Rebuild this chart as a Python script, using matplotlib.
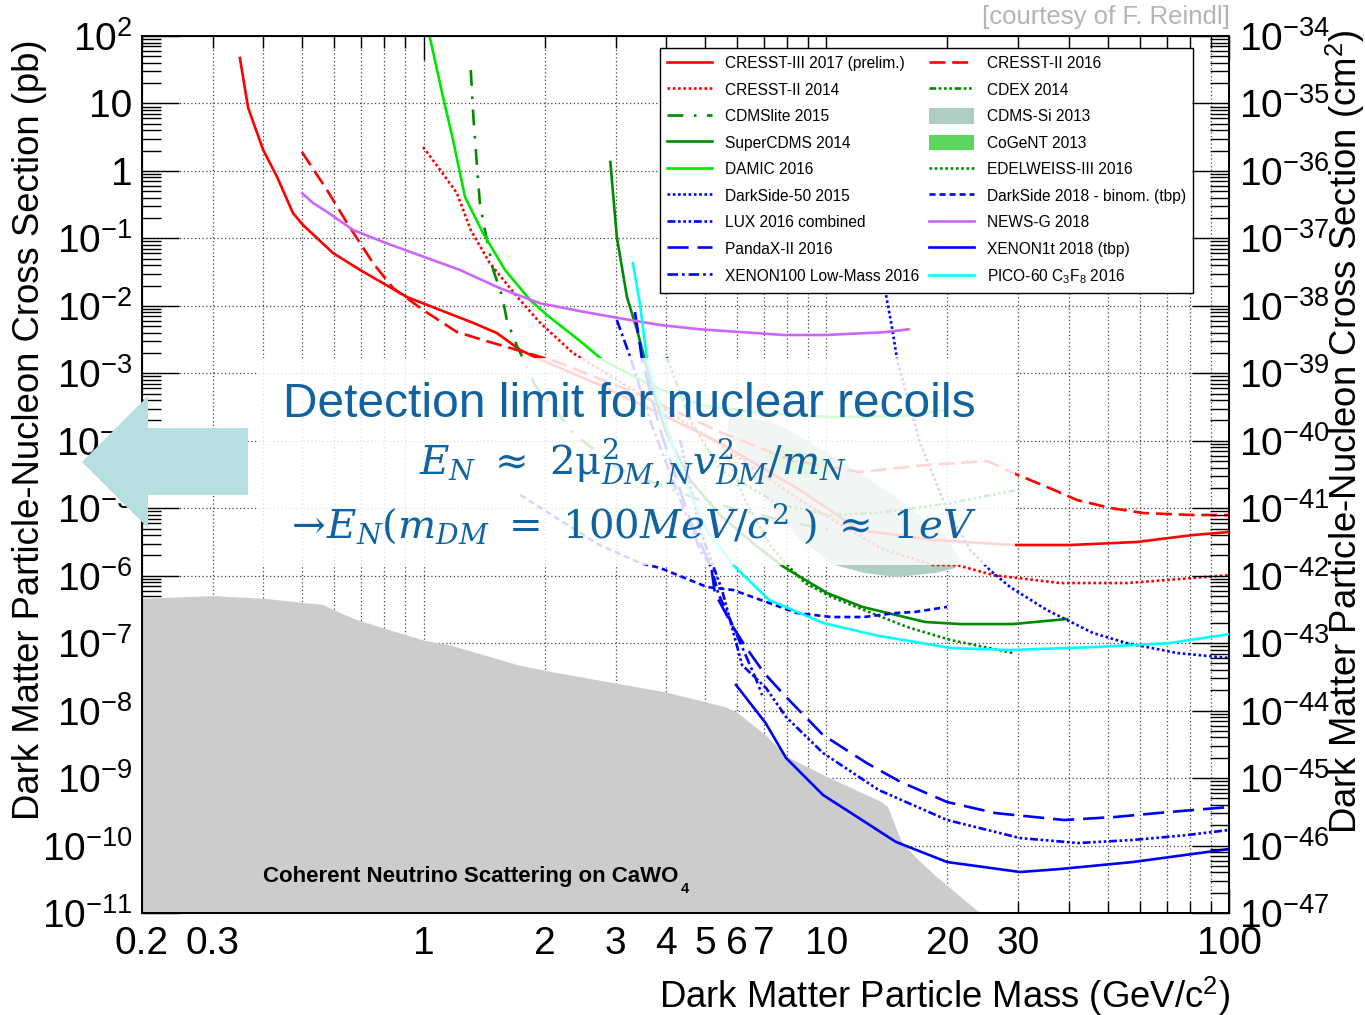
import numpy as np
import matplotlib
matplotlib.use('Agg')
import matplotlib.pyplot as plt
import matplotlib.ticker as mticker
from matplotlib.patches import Polygon, Rectangle, Patch
from matplotlib.lines import Line2D

plt.rcParams['font.family'] = ['Liberation Sans', 'DejaVu Sans']
plt.rcParams['mathtext.fontset'] = 'dejavuserif'

# ---- data (mass in GeV/c^2, cross section in pb) ----
cresst3_m = [0.350, 0.367, 0.400, 0.433, 0.474, 0.502, 0.596, 0.696, 0.910, 1.10, 1.33, 1.52, 1.74, 1.91,
             2.74, 4.17, 5.45, 8.61, 12.1, 18.5, 29.1, 40.3, 59.1, 81.4, 100]
cresst3_s = [47.2, 8.57, 2.04, 0.813, 0.238, 0.158, 0.0607, 0.034, 0.0135, 8.67e-3, 5.57e-3, 3.96e-3, 2.21e-3,
             1.69e-3, 6.71e-4, 2.03e-4, 9.27e-5, 1.86e-5, 4.75e-6, 3.38e-6, 2.85e-6, 2.85e-6, 3.16e-6, 4.01e-6, 4.44e-6]

cresst2_16_m = [0.499, 0.576, 0.646, 0.749, 0.840, 0.998, 1.21, 1.46, 1.71, 2.15, 3.45, 5.45, 8.13, 12.1, 17.8,
                25.1, 29.1, 35.3, 42.0, 50.7, 61.2, 81.4, 100]
cresst2_16_s = [1.91, 0.521, 0.169, 0.0432, 0.0184, 8.67e-3, 4.09e-3, 2.91e-3, 2.21e-3, 1.47e-3, 4.76e-4, 1.35e-4,
                5.19e-5, 3.44e-5, 4.37e-5, 5.01e-5, 3.33e-5, 2.07e-5, 1.32e-5, 1.01e-5, 8.49e-6, 7.93e-6, 7.93e-6]

cresst2_14_m = [0.998, 1.10, 1.21, 1.31, 1.46, 1.71, 1.95, 2.35, 3.65, 5.45, 8.61, 13.6, 18.4, 21.1, 26.0, 38.1,
                55.8, 81.4, 100]
cresst2_14_s = [2.26, 1.03, 0.471, 0.133, 0.0432, 0.0135, 5.57e-3, 2.0e-3, 4.02e-4, 8.65e-5, 1.32e-5, 2.57e-6,
                1.44e-6, 1.44e-6, 1.02e-6, 7.78e-7, 7.78e-7, 9.25e-7, 1.02e-6]

cdex_m = [4.02, 4.59, 5.45, 7.68, 10.2, 13.4, 20.3, 29.8]
cdex_s = [1.75e-3, 2.03e-4, 3.69e-5, 1.12e-5, 7.94e-6, 8.49e-6, 1.19e-5, 1.86e-5]

cdmslite_m = [1.31, 1.33, 1.36, 1.38, 1.42, 1.49, 1.57, 1.61, 1.71, 1.76, 1.89, 2.10, 2.35, 3.08, 4.86, 7.68, 10.2]
cdmslite_s = [31.3, 6.30, 1.03, 0.335, 0.133, 0.034, 0.0135, 6.17e-3, 2.46e-3, 1.75e-3, 6.71e-4, 3.16e-4,
              1.30e-4, 3.69e-5, 1.32e-5, 6.68e-6, 4.75e-6]

cdmssi_m = [5.77, 7.68, 10.8, 15.3, 19.7, 21.5, 20.9, 18.7, 14.9, 12.4, 10.5, 8.61, 7.25, 6.29, 5.70]
cdmssi_s = [2.67e-4, 1.71e-4, 5.19e-5, 1.32e-5, 4.01e-6, 1.71e-6, 1.30e-6, 1.10e-6, 9.55e-7, 1.10e-6, 1.44e-6,
            3.38e-6, 1.12e-5, 4.37e-5, 1.45e-4]

supercdms_m = [2.91, 3.02, 3.20, 3.39, 3.51, 3.65, 3.98, 4.59, 5.45, 6.66, 7.84, 10.05, 12.3, 17.6, 21.5, 29.1, 39.6]
supercdms_s = [1.355, 0.105, 0.0135, 4.39e-3, 2.0e-3, 7.96e-4, 1.45e-4, 2.62e-5, 7.94e-6, 2.85e-6, 1.35e-6,
               5.53e-7, 3.44e-7, 2.06e-7, 1.92e-7, 1.92e-7, 2.28e-7]

cogent_m = [7.0, 8.0, 9.5, 10.5, 9.0, 7.5]
cogent_s = [6.0e-5, 8.0e-5, 6.0e-5, 3.5e-5, 2.8e-5, 4.0e-5]

damic_m = [1.015, 1.118, 1.184, 1.268, 1.405, 1.594, 1.839, 2.026, 2.447, 2.79, 3.65, 4.86, 6.85, 10.2, 15.3, 19.7]
damic_s = [172, 12.5, 2.87, 0.411, 0.120, 0.034, 0.0122, 7.31e-3, 3.01e-3, 1.57e-3, 6.71e-4, 3.39e-4, 2.58e-4,
           2.25e-4, 2.31e-4, 2.86e-4]

edw_m = [5.45, 6.29, 7.25, 7.86, 8.86, 10.3, 12.4, 15.9, 20.4, 29.1]
edw_s = [1.03e-4, 1.32e-5, 2.85e-6, 1.60e-6, 7.78e-7, 4.83e-7, 3.10e-7, 1.73e-7, 1.11e-7, 7.14e-8]

ds50_m = [14.0, 14.6, 15.0, 17.1, 19.95, 22.8, 25.5, 28.6, 35.3, 46.0, 55.8, 74.3, 100]
ds50_s = [0.0172, 4.39e-3, 1.57e-3, 9.27e-5, 9.42e-6, 2.40e-6, 1.21e-6, 6.79e-7, 3.10e-7, 1.41e-7, 1.00e-7,
          7.14e-8, 6.03e-8]

ds18_m = [1.74, 2.18, 2.74, 3.45, 3.87, 5.06, 5.87, 7.21, 8.46, 10.3, 12.4, 14.9, 16.6, 19.95]
ds18_s = [1.57e-5, 6.68e-6, 2.85e-6, 1.54e-6, 1.30e-6, 6.79e-7, 6.14e-7, 3.94e-7, 2.80e-7, 2.44e-7, 2.44e-7,
          2.80e-7, 2.90e-7, 3.44e-7]

lux_m = [4.34, 4.86, 5.51, 6.18, 7.09, 7.95, 9.82, 13.5, 19.95, 30.3, 42.2, 57.8, 78.7, 100]
lux_s = [1.03e-4, 4.75e-6, 6.14e-7, 4.74e-8, 2.16e-8, 8.04e-9, 2.35e-9, 6.65e-10, 2.39e-10, 1.29e-10, 1.09e-10,
         1.21e-10, 1.43e-10, 1.70e-10]

newsg_m = [0.500, 0.533, 0.575, 0.669, 0.810, 1.0, 1.232, 1.549, 1.947, 2.494, 3.08, 3.87, 4.86, 7.83, 10.0, 13.9, 16.0]
newsg_s = [0.466, 0.331, 0.249, 0.133, 0.0845, 0.0535, 0.034, 0.0182, 0.0109, 8.18e-3, 6.53e-3, 5.20e-3, 4.49e-3,
           3.70e-3, 3.70e-3, 4.06e-3, 4.49e-3]

pandax_m = [3.35, 3.49, 3.87, 4.59, 5.18, 5.29, 5.87, 6.31, 7.01, 7.95, 9.82, 12.6, 15.3, 19.95, 26.3, 39.0, 52.1,
            71.0, 100]
pandax_s = [8.11e-3, 1.57e-3, 1.45e-4, 6.68e-6, 1.35e-6, 5.53e-7, 1.73e-7, 8.77e-8, 3.61e-8, 1.59e-8, 4.35e-9,
            1.67e-9, 8.75e-10, 4.42e-10, 3.03e-10, 2.39e-10, 2.65e-10, 3.14e-10, 3.72e-10]

xe1t_m = [5.97, 7.07, 7.95, 9.82, 14.9, 19.95, 30.3, 38.1, 57.8, 100]
xe1t_s = [2.40e-8, 6.55e-9, 1.98e-9, 5.61e-10, 1.13e-10, 5.70e-11, 4.05e-11, 4.49e-11, 5.70e-11, 8.87e-11]

xe100_m = [3.02, 3.26, 3.65, 4.34, 4.86, 5.18, 5.39, 5.97, 6.66, 6.93]
xe100_s = [6.17e-3, 1.75e-3, 2.03e-4, 1.32e-5, 2.40e-6, 1.35e-6, 5.53e-7, 1.41e-7, 3.15e-8, 1.70e-8]

pico_m = [3.31, 3.45, 3.59, 3.87, 4.34, 5.00, 5.87, 7.21, 9.82, 13.5, 20.4, 28.6, 46.8, 71.0, 100]
pico_s = [0.0432, 0.0103, 1.57e-3, 3.39e-4, 3.69e-5, 5.27e-6, 1.44e-6, 4.37e-7, 1.99e-7, 1.28e-7, 8.47e-8,
          7.91e-8, 8.77e-8, 1.0e-7, 1.36e-7]

nu_m = [0.2, 0.255, 0.299, 0.402, 0.498, 0.561, 0.595, 0.670, 0.800, 1.0, 1.163, 1.417, 1.725, 2.018, 3.02, 3.98,
        5.62, 5.98, 7.07, 8.01, 9.85, 13.7, 14.2, 15.3, 16.6, 18.8, 23.6, 24.4]
nu_s = [4.62e-7, 4.89e-7, 5.06e-7, 4.62e-7, 4.03e-7, 3.77e-7, 3.17e-7, 2.33e-7, 1.66e-7, 1.11e-7, 9.4e-8, 6.67e-8,
        4.74e-8, 3.91e-8, 2.54e-8, 1.90e-8, 1.14e-8, 9.6e-9, 4.35e-9, 2.07e-9, 1.11e-9, 4.47e-10, 3.77e-10,
        1.21e-10, 6.83e-11, 3.45e-11, 1.11e-11, 1e-11]

x_major = [1, 10, 100]
x_minor = [0.2, 0.3, 0.4, 0.5, 0.6, 0.7, 0.8, 0.9, 2, 3, 4, 5, 6, 7, 8, 9, 20, 30, 40, 50, 60, 70, 80, 90]
x_minor_labeled = [0.2, 0.3, 2, 3, 4, 5, 6, 7, 20, 30]

# ---- styles ----
RED, BLUE, DKGREEN, GREEN = '#ff0000', '#0000ff', '#008a00', '#00e600'
LW = 1.9
curves = [
    # label, m, s, color, linestyle
    ('CRESST-III 2017 (prelim.)', cresst3_m, cresst3_s, RED, '-'),
    ('CRESST-II 2014', cresst2_14_m, cresst2_14_s, RED, (0, (1, 1))),
    ('CDMSlite 2015', cdmslite_m, cdmslite_s, DKGREEN, (0, (6, 4, 1, 4))),
    ('SuperCDMS 2014', supercdms_m, supercdms_s, DKGREEN, '-'),
    ('DAMIC 2016', damic_m, damic_s, GREEN, '-'),
    ('DarkSide-50 2015', ds50_m, ds50_s, BLUE, (0, (1, 1))),
    ('LUX 2016 combined', lux_m, lux_s, BLUE, (0, (3, 1, 1, 1, 1, 1, 1, 1))),
    ('PandaX-II 2016', pandax_m, pandax_s, BLUE, (0, (8, 3.4))),
    ('XENON100 Low-Mass 2016', xe100_m, xe100_s, BLUE, (0, (4, 1.5, 1, 1.5))),
    ('CRESST-II 2016', cresst2_16_m, cresst2_16_s, RED, (0, (6, 2.6))),
    ('CDEX 2014', cdex_m, cdex_s, DKGREEN, (0, (2.5, 1, 1, 1, 1, 1, 1, 1))),
    ('CDMS-Si 2013', None, None, '#aecdc3', 'fill'),
    ('CoGeNT 2013', None, None, '#5cd65c', 'fill'),
    ('EDELWEISS-III 2016', edw_m, edw_s, DKGREEN, (0, (1, 1))),
    ('DarkSide 2018 - binom. (tbp)', ds18_m, ds18_s, BLUE, (0, (2.3, 1.5))),
    ('NEWS-G 2018', newsg_m, newsg_s, '#cc66ff', '-'),
    ('XENON1t 2018 (tbp)', xe1t_m, xe1t_s, BLUE, '-'),
    ('PICO-60 C$_\\mathdefault{3}$F$_\\mathdefault{8}$ 2016', pico_m, pico_s, '#00ffff', '-'),
]

W, H = 1365, 1015
fig = plt.figure(figsize=(W / 100, H / 100), dpi=100)
ax = fig.add_axes([142 / W, 1 - 913 / H, 1087 / W, 877 / H])
ax.set_xscale('log')
ax.set_yscale('log')
ax.set_xlim(0.2, 100)
ax.set_ylim(1e-11, 1e2)


def fx(x):
    return x / W


def fy(y):
    return 1 - y / H


# neutrino floor
ax.fill_between(nu_m, 1e-12, nu_s, color='#cccccc', lw=0, zorder=1.5)

# regions
ax.fill(cdmssi_m, cdmssi_s, color='#aecdc3', lw=0, zorder=2.5)
ax.fill(cogent_m, cogent_s, color='#5cd65c', lw=0, zorder=2.5)

handles = []
for label, m, s, col, ls in curves:
    if ls == 'fill':
        handles.append(Patch(facecolor=col, edgecolor='none', label=label))
        continue
    ax.plot(m, s, color=col, ls=ls, lw=LW, zorder=3)
    handles.append(Line2D([], [], color=col, ls=ls, lw=LW, label=label))

# grid
grid_kw = dict(color='#444444', lw=0.9, ls=(0, (1, 2)))
ax.set_axisbelow(True)
ax.xaxis.set_major_locator(mticker.FixedLocator(x_major))
ax.xaxis.set_minor_locator(mticker.FixedLocator(x_minor))
ax.xaxis.set_major_formatter(mticker.FuncFormatter(lambda v, p: '%g' % v))
ax.xaxis.set_minor_formatter(mticker.FuncFormatter(
    lambda v, p: ('%g' % v) if any(abs(v - q) < 1e-6 for q in x_minor_labeled) else ''))
ax.grid(True, which='both', axis='x', **grid_kw)
ax.grid(True, which='major', axis='y', **grid_kw)


def pow_fmt(v, p):
    e = int(round(np.log10(v)))
    if e == 0:
        return '1'
    if e == 1:
        return '10'
    return r'$\mathdefault{10^{%d}}$' % e


ax.yaxis.set_major_locator(mticker.LogLocator(base=10, numticks=40))
ax.yaxis.set_minor_locator(mticker.LogLocator(base=10, subs=np.arange(2, 10), numticks=400))
ax.yaxis.set_major_formatter(mticker.FuncFormatter(pow_fmt))
ax.yaxis.set_minor_formatter(mticker.NullFormatter())

ax.tick_params(axis='x', which='both', direction='in', top=True, bottom=True, labelsize=28, pad=9, width=1.0)
ax.tick_params(axis='x', which='major', length=17)
ax.tick_params(axis='x', which='minor', length=8.6)
ax.tick_params(axis='y', which='both', direction='in', left=True, right=False, labelsize=28, pad=7, width=1.0)
ax.tick_params(axis='y', which='major', length=26.6)
ax.tick_params(axis='y', which='minor', length=13.7)
for sp in ax.spines.values():
    sp.set_linewidth(1.4)

ax2 = ax.twinx()
ax2.set_yscale('log')
ax2.set_ylim(1e-47, 1e-34)
ax2.yaxis.set_major_locator(mticker.LogLocator(base=10, numticks=40))
ax2.yaxis.set_minor_locator(mticker.LogLocator(base=10, subs=np.arange(2, 10), numticks=400))
ax2.yaxis.set_major_formatter(mticker.FuncFormatter(pow_fmt))
ax2.yaxis.set_minor_formatter(mticker.NullFormatter())
ax2.tick_params(axis='y', which='both', direction='in', labelsize=28, pad=7, width=1.0)
ax2.tick_params(axis='y', which='major', length=26.6)
ax2.tick_params(axis='y', which='minor', length=13.7)

leg = ax.legend(handles=handles, ncol=2, loc='upper left', bbox_to_anchor=(0.4765, 0.9863),
                fontsize=11.2, frameon=True, fancybox=False, edgecolor='black', framealpha=1,
                handlelength=2.9, handletextpad=0.84, columnspacing=0.6, labelspacing=0.68,
                borderpad=0.45, borderaxespad=0, handleheight=1.15)
leg.get_frame().set_linewidth(1.0)
leg.set_zorder(6)

# axis titles
fig.text(fx(1230), fy(975), 'Dark Matter Particle Mass (GeV/c$^{\\mathdefault{2}}$)', ha='right', va='top',
         fontsize=26.3)
fig.text(fx(30), fy(40), 'Dark Matter Particle-Nucleon Cross Section (pb)', rotation=90, ha='center', va='top',
         fontsize=26.3)
fig.text(fx(1345), fy(30), 'Dark Matter Particle-Nucleon Cross Section (cm$^{\\mathdefault{2}}$)', rotation=90,
         ha='center', va='top', fontsize=26.3)
fig.text(fx(1230), fy(17), '[courtesy of F. Reindl]', ha='right', va='center', fontsize=18.5, color='#b4b4b4')

fig.text(fx(263), fy(882), 'Coherent Neutrino Scattering on CaWO', fontsize=16, fontweight='bold',
         va='baseline', zorder=2)
fig.text(fx(681), fy(893), '4', fontsize=10.5, fontweight='bold', va='baseline')

# white veil over the nuclear recoil region
fig.add_artist(Rectangle((fx(258), fy(565)), (1015 - 258) / W, (565 - 358) / H, transform=fig.transFigure,
                         facecolor='white', edgecolor='none', alpha=0.84, zorder=5))

TXT = '#1063a0'
fig.text(fx(283), fy(417), 'Detection limit for nuclear recoils', fontsize=34.5, color=TXT, va='baseline', zorder=6)
fig.text(fx(419), fy(475), r'$E_N\ \approx\ 2\mathrm{\mu}^2_{DM,N}v^2_{DM}/m_N$', fontsize=29, color=TXT,
         va='baseline', zorder=6)
fig.text(fx(284), fy(538), r'$\rightarrow\!E_N(m_{DM}\ =\ 100MeV/c^2\ )\ \approx\ 1eV$', fontsize=29,
         color=TXT, va='baseline', zorder=6)

# arrow pointing to lower masses
arrow_px = [(82, 462), (148, 396), (148, 428), (248, 428), (248, 495), (148, 495), (148, 528)]
fig.add_artist(Polygon([(fx(x), fy(y)) for x, y in arrow_px], closed=True, transform=fig.transFigure,
                       facecolor='#b7dfe2', edgecolor='none', zorder=7))

fig.savefig('out.png', dpi=100)
